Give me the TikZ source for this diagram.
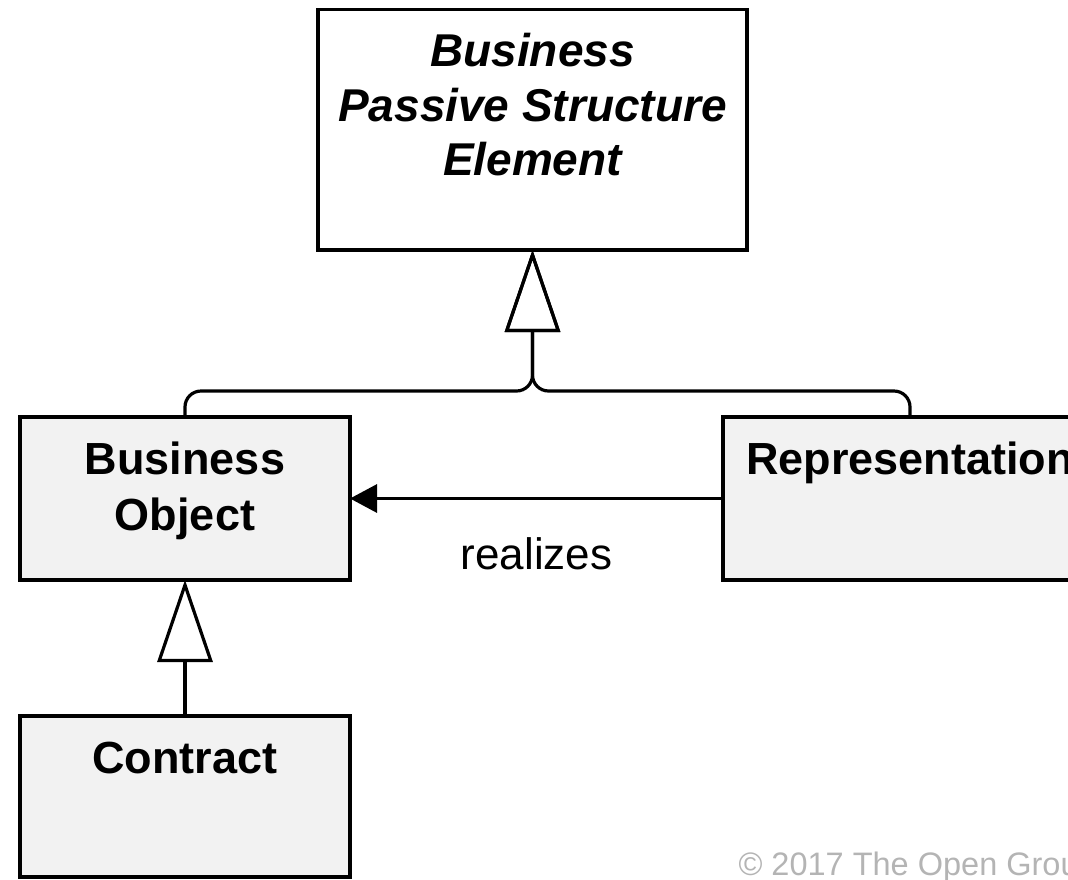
\documentclass[tikz,border=0pt]{standalone}
\usepackage{fontspec}
\setmainfont{Liberation Sans}
\usetikzlibrary{arrows.meta,positioning}
\definecolor{boxgray}{HTML}{F2F2F2}
\definecolor{copygray}{HTML}{B4B4B4}

\begin{document}
\begin{tikzpicture}[x=1pt,y=-1pt,
    elem/.style={draw, line width=3.5pt, fill=boxgray, inner sep=0pt, outer sep=0pt,
        minimum width=330pt, minimum height=163pt},
    elemtext/.style={font=\bfseries\fontsize{45}{56}\selectfont, align=center, inner sep=0pt},
    gen/.style={line width=3.2pt, rounded corners=16pt,
        -{Triangle[open, length=82pt, width=55pt]}},
    real/.style={line width=3.2pt, -{Triangle[length=27pt, width=28pt]}}]
    \useasboundingbox (0,0) rectangle (1068,879);

    % Elements
    \node[elem, fill=white, minimum width=429pt, minimum height=240.5pt] (bpse) at (532.5,129.75) {};
    \node[elem] (bo) at (185,498.5) {};
    \node[elem, minimum width=374pt] (rep) at (910,498.5) {};
    \node[elem, minimum height=161pt] (con) at (185,796.5) {};

    % Names
    \node[elemtext, font=\bfseries\itshape\fontsize{46}{54.5}\selectfont, below=23.5pt of bpse.north] (bpsetxt) {Business\\Passive Structure\\Element};
    \node[elemtext, below=25pt of bo.north] (botxt) {Business\\Object};
    \node[elemtext, below=25pt of rep.north] (reptxt) {Representation};
    \node[elemtext, below=26pt of con.north] (contxt) {Contract};

    % Specialization
    \coordinate (join) at (532.5,391);
    \draw[gen] (bo.north) |- (join) -- (bpse.south);
    \draw[gen] (rep.north) |- (join) -- (bpse.south);
    \draw[gen] (con.north) -- (bo.south);

    % Realization
    \draw[real] (rep) -- (bo) node[midway, below=38pt, inner sep=0pt, font=\fontsize{44}{50}\selectfont] (realtxt) {realizes};

    \node[anchor=base west, text=copygray, font=\fontsize{32.5}{38}\selectfont] (copy) at (735,875) {© 2017 The Open Group};
\end{tikzpicture}
\end{document}
